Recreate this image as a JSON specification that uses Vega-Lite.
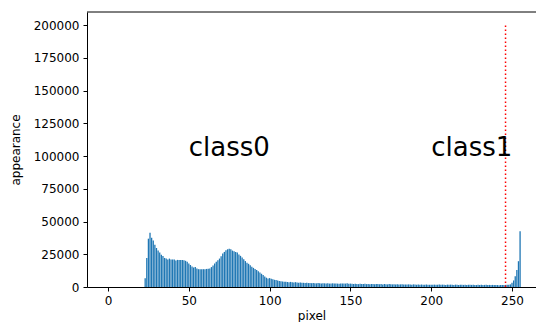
{
  "$schema": "https://vega.github.io/schema/vega-lite/v6.json",
  "width": 449,
  "height": 275,
  "autosize": {"type": "none"},
  "padding": {"left": 87, "top": 12, "right": 0, "bottom": 35},
  "config": {
    "font": "DejaVu Sans",
    "view": {"stroke": null},
    "axis": {
      "domainColor": "#000000",
      "domainWidth": 1,
      "tickColor": "#000000",
      "tickSize": 4,
      "tickWidth": 1,
      "labelColor": "#000000",
      "labelFontSize": 12,
      "labelFont": "DejaVu Sans",
      "titleFont": "DejaVu Sans",
      "titleFontSize": 12,
      "titleFontWeight": "normal",
      "titleColor": "#000000",
      "grid": false,
      "labelPadding": 4,
      "labelOverlap": false,
      "labelFlush": false
    }
  },
  "datasets": {
    "hist": [
      {"pixel":0,"count":0},{"pixel":1,"count":0},{"pixel":2,"count":0},{"pixel":3,"count":0},{"pixel":4,"count":0},{"pixel":5,"count":0},{"pixel":6,"count":0},{"pixel":7,"count":0},{"pixel":8,"count":0},{"pixel":9,"count":0},
      {"pixel":10,"count":0},{"pixel":11,"count":0},{"pixel":12,"count":0},{"pixel":13,"count":0},{"pixel":14,"count":0},{"pixel":15,"count":0},{"pixel":16,"count":0},{"pixel":17,"count":0},{"pixel":18,"count":0},{"pixel":19,"count":0},
      {"pixel":20,"count":0},{"pixel":21,"count":0},{"pixel":22,"count":0},{"pixel":23,"count":6600},{"pixel":24,"count":22200},{"pixel":25,"count":36900},{"pixel":26,"count":41400},{"pixel":27,"count":37600},{"pixel":28,"count":35600},{"pixel":29,"count":32300},
      {"pixel":30,"count":29800},{"pixel":31,"count":27800},{"pixel":32,"count":26300},{"pixel":33,"count":24700},{"pixel":34,"count":23700},{"pixel":35,"count":22200},{"pixel":36,"count":21700},{"pixel":37,"count":21000},{"pixel":38,"count":21700},{"pixel":39,"count":21000},
      {"pixel":40,"count":21000},{"pixel":41,"count":21000},{"pixel":42,"count":20200},{"pixel":43,"count":20700},{"pixel":44,"count":20700},{"pixel":45,"count":20700},{"pixel":46,"count":20700},{"pixel":47,"count":20500},{"pixel":48,"count":20000},{"pixel":49,"count":19200},
      {"pixel":50,"count":18000},{"pixel":51,"count":16800},{"pixel":52,"count":15600},{"pixel":53,"count":14800},{"pixel":54,"count":15200},{"pixel":55,"count":14200},{"pixel":56,"count":13600},{"pixel":57,"count":13600},{"pixel":58,"count":13600},{"pixel":59,"count":13600},
      {"pixel":60,"count":13600},{"pixel":61,"count":13800},{"pixel":62,"count":13900},{"pixel":63,"count":14100},{"pixel":64,"count":15200},{"pixel":65,"count":16500},{"pixel":66,"count":17900},{"pixel":67,"count":19200},{"pixel":68,"count":20500},{"pixel":69,"count":21700},
      {"pixel":70,"count":23500},{"pixel":71,"count":25500},{"pixel":72,"count":26800},{"pixel":73,"count":28000},{"pixel":74,"count":28800},{"pixel":75,"count":29300},{"pixel":76,"count":28800},{"pixel":77,"count":27800},{"pixel":78,"count":27300},{"pixel":79,"count":26800},
      {"pixel":80,"count":26300},{"pixel":81,"count":24800},{"pixel":82,"count":23800},{"pixel":83,"count":22500},{"pixel":84,"count":21200},{"pixel":85,"count":19800},{"pixel":86,"count":18600},{"pixel":87,"count":17700},{"pixel":88,"count":16700},{"pixel":89,"count":15500},
      {"pixel":90,"count":14600},{"pixel":91,"count":13700},{"pixel":92,"count":12900},{"pixel":93,"count":12000},{"pixel":94,"count":11100},{"pixel":95,"count":10100},{"pixel":96,"count":9100},{"pixel":97,"count":8100},{"pixel":98,"count":7100},{"pixel":99,"count":6500},
      {"pixel":100,"count":6800},{"pixel":101,"count":6300},{"pixel":102,"count":6000},{"pixel":103,"count":5500},{"pixel":104,"count":5300},{"pixel":105,"count":5000},{"pixel":106,"count":4600},{"pixel":107,"count":4300},{"pixel":108,"count":4200},{"pixel":109,"count":4000},
      {"pixel":110,"count":4100},{"pixel":111,"count":3800},{"pixel":112,"count":3700},{"pixel":113,"count":3900},{"pixel":114,"count":3600},{"pixel":115,"count":3500},{"pixel":116,"count":3700},{"pixel":117,"count":3400},{"pixel":118,"count":3300},{"pixel":119,"count":3500},
      {"pixel":120,"count":3300},{"pixel":121,"count":3200},{"pixel":122,"count":3100},{"pixel":123,"count":3300},{"pixel":124,"count":3000},{"pixel":125,"count":3000},{"pixel":126,"count":2900},{"pixel":127,"count":3100},{"pixel":128,"count":2900},{"pixel":129,"count":2800},
      {"pixel":130,"count":3000},{"pixel":131,"count":2800},{"pixel":132,"count":2700},{"pixel":133,"count":2900},{"pixel":134,"count":2800},{"pixel":135,"count":2700},{"pixel":136,"count":2800},{"pixel":137,"count":2600},{"pixel":138,"count":2700},{"pixel":139,"count":2800},
      {"pixel":140,"count":2600},{"pixel":141,"count":2700},{"pixel":142,"count":2600},{"pixel":143,"count":2500},{"pixel":144,"count":2700},{"pixel":145,"count":2600},{"pixel":146,"count":2700},{"pixel":147,"count":2600},{"pixel":148,"count":2800},{"pixel":149,"count":2500},
      {"pixel":150,"count":2600},{"pixel":151,"count":2400},{"pixel":152,"count":2300},{"pixel":153,"count":2500},{"pixel":154,"count":2300},{"pixel":155,"count":2200},{"pixel":156,"count":2400},{"pixel":157,"count":2300},{"pixel":158,"count":2200},{"pixel":159,"count":2400},
      {"pixel":160,"count":2200},{"pixel":161,"count":2300},{"pixel":162,"count":2100},{"pixel":163,"count":2300},{"pixel":164,"count":2200},{"pixel":165,"count":2100},{"pixel":166,"count":2300},{"pixel":167,"count":2200},{"pixel":168,"count":2100},{"pixel":169,"count":2200},
      {"pixel":170,"count":2000},{"pixel":171,"count":2200},{"pixel":172,"count":2100},{"pixel":173,"count":2000},{"pixel":174,"count":2200},{"pixel":175,"count":2100},{"pixel":176,"count":2000},{"pixel":177,"count":2100},{"pixel":178,"count":2000},{"pixel":179,"count":2100},
      {"pixel":180,"count":1900},{"pixel":181,"count":2000},{"pixel":182,"count":2100},{"pixel":183,"count":1900},{"pixel":184,"count":2000},{"pixel":185,"count":1900},{"pixel":186,"count":2000},{"pixel":187,"count":1900},{"pixel":188,"count":1800},{"pixel":189,"count":2000},
      {"pixel":190,"count":1900},{"pixel":191,"count":1800},{"pixel":192,"count":1900},{"pixel":193,"count":1800},{"pixel":194,"count":1900},{"pixel":195,"count":1800},{"pixel":196,"count":1700},{"pixel":197,"count":1900},{"pixel":198,"count":1800},{"pixel":199,"count":1700},
      {"pixel":200,"count":1800},{"pixel":201,"count":1700},{"pixel":202,"count":1800},{"pixel":203,"count":1700},{"pixel":204,"count":1800},{"pixel":205,"count":1900},{"pixel":206,"count":1700},{"pixel":207,"count":1800},{"pixel":208,"count":1700},{"pixel":209,"count":1600},
      {"pixel":210,"count":1800},{"pixel":211,"count":1700},{"pixel":212,"count":1800},{"pixel":213,"count":1700},{"pixel":214,"count":1600},{"pixel":215,"count":1800},{"pixel":216,"count":1700},{"pixel":217,"count":1600},{"pixel":218,"count":1700},{"pixel":219,"count":1800},
      {"pixel":220,"count":1600},{"pixel":221,"count":1700},{"pixel":222,"count":1600},{"pixel":223,"count":1700},{"pixel":224,"count":1800},{"pixel":225,"count":1600},{"pixel":226,"count":1700},{"pixel":227,"count":1600},{"pixel":228,"count":1500},{"pixel":229,"count":1700},
      {"pixel":230,"count":1600},{"pixel":231,"count":1700},{"pixel":232,"count":1500},{"pixel":233,"count":1600},{"pixel":234,"count":1700},{"pixel":235,"count":1500},{"pixel":236,"count":1600},{"pixel":237,"count":1500},{"pixel":238,"count":1600},{"pixel":239,"count":1500},
      {"pixel":240,"count":1600},{"pixel":241,"count":1500},{"pixel":242,"count":1400},{"pixel":243,"count":1600},{"pixel":244,"count":1500},{"pixel":245,"count":1500},{"pixel":246,"count":1600},{"pixel":247,"count":1700},{"pixel":248,"count":1800},{"pixel":249,"count":2000},
      {"pixel":250,"count":3300},{"pixel":251,"count":5000},{"pixel":252,"count":8300},{"pixel":253,"count":12900},{"pixel":254,"count":19700},{"pixel":255,"count":42500}
    ],
    "labels": [
      {"x": 50, "y": 100000, "label": "class0"},
      {"x": 200, "y": 100000, "label": "class1"}
    ],
    "threshold": [
      {"threshold": 246}
    ]
  },
  "layer": [
    {
      "data": {"name": "hist"},
      "mark": {"type": "bar", "width": 1.3, "color": "#1f77b4"},
      "encoding": {
        "x": {
          "field": "pixel", "type": "quantitative", "title": "pixel",
          "scale": {"domain": [-13, 264.85], "nice": false, "zero": false, "padding": 0},
          "axis": {"values": [0, 50, 100, 150, 200, 250], "titlePadding": 4, "labelOverlap": false}
        },
        "y": {
          "field": "count", "type": "quantitative", "title": "appearance",
          "scale": {"domain": [0, 210000], "nice": false, "padding": 0},
          "axis": {"values": [0, 25000, 50000, 75000, 100000, 125000, 150000, 175000, 200000], "format": "d", "titlePadding": 11, "labelOverlap": false, "tickCount": 9}
        }
      }
    },
    {
      "data": {"name": "threshold"},
      "mark": {"type": "rule", "color": "#ff0000", "strokeWidth": 1.5, "strokeDash": [1.5, 2.5]},
      "encoding": {
        "x": {"field": "threshold", "type": "quantitative", "title": "pixel",
          "axis": {"values": [0, 50, 100, 150, 200, 250], "titlePadding": 4, "labelOverlap": false}},
        "y": {"datum": 0, "type": "quantitative", "title": "appearance",
          "axis": {"values": [0, 25000, 50000, 75000, 100000, 125000, 150000, 175000, 200000], "format": "d", "titlePadding": 11, "labelOverlap": false, "tickCount": 9}},
        "y2": {"datum": 200000}
      }
    },
    {
      "data": {"name": "labels"},
      "mark": {"type": "text", "align": "left", "baseline": "alphabetic", "fontSize": 26, "color": "#000000", "font": "DejaVu Sans"},
      "encoding": {
        "x": {"field": "x", "type": "quantitative", "title": "pixel",
          "axis": {"values": [0, 50, 100, 150, 200, 250], "titlePadding": 4, "labelOverlap": false}},
        "y": {"field": "y", "type": "quantitative", "title": "appearance",
          "axis": {"values": [0, 25000, 50000, 75000, 100000, 125000, 150000, 175000, 200000], "format": "d", "titlePadding": 11, "labelOverlap": false, "tickCount": 9}},
        "text": {"field": "label"}
      }
    },
    {
      "data": {"values": [{}]},
      "mark": {"type": "rule", "color": "#000000", "strokeWidth": 1},
      "encoding": {
        "y": {"datum": 210000, "type": "quantitative", "title": "appearance",
          "axis": {"values": [0, 25000, 50000, 75000, 100000, 125000, 150000, 175000, 200000], "format": "d", "titlePadding": 11, "labelOverlap": false, "tickCount": 9}}
      }
    }
  ]
}
